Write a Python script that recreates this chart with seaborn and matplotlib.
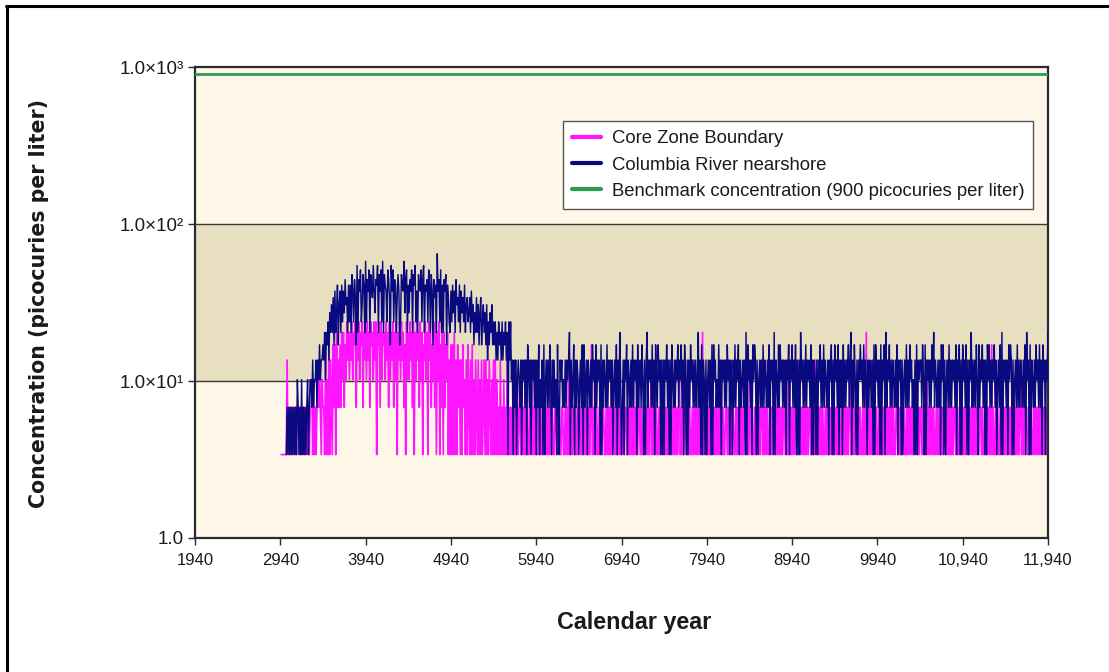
import numpy as np
import pandas as pd
import matplotlib
matplotlib.use("Agg")
import matplotlib.pyplot as plt
from matplotlib.lines import Line2D
from matplotlib.ticker import FixedLocator, NullLocator
import seaborn as sns

# ---------------- data ----------------
START_YEAR = 2950       # first sample year
STEP_YEARS = 10         # sample spacing (years)

# concentration levels (picocuries per liter) referenced by the codes below
# code '0' = no value, '1' = 3.4, '2' = 6.8, ... 'j' = 64.6
LEVELS = [np.nan, 3.4, 6.8, 10.2, 13.6, 17.0, 20.4, 23.8, 27.2, 30.6, 34.0,
          37.4, 40.8, 44.2, 47.6, 51.0, 54.4, 57.8, 61.2, 64.6]

# Core Zone Boundary, one code per 10 years, 500 years per row
core_zone_codes = [
    "1100001412 1212121212 2121212121 2121223121 2123242132",  # 2950-3440
    "2141315142 1525162425 2636253746 3647365726 4736572647",  # 3450-3940
    "3746275637 4716572736 5637462736 4726371647 3746251736",  # 3950-4440
    "3746271637 4627361547 3617462537 2616371526 1625361415",  # 4450-4940
    "1516141524 1415231415 2141513142 1413141241 4131421314",  # 4950-5440
    "1413121412 1312141212 1212121312 2121214121 1212312121",  # 5450-5940
    "1212112121 2121213121 1221212112 2112121412 1212211212",  # 5950-6440
    "2121121212 1212512121 2112121221 1212121312 2121121212",  # 6450-6940
    "1212211212 1213121212 2121121212 1212412121 2112121212",  # 6950-7440
    "1212121121 2121212312 1212211212 1121212121 2121612121",  # 7450-7940
    "1212112121 2121213121 1221212112 2112121212 1212211412",  # 7950-8440
    "2121121212 1212312121 2112121221 1212121212 2121151212",  # 8450-8940
    "1212211212 1212121212 2121121412 1212121121 2112121212",  # 8950-9440
    "1212121121 2121212312 1212211212 1121216121 2121212121",  # 9450-9940
    "1212112121 2121213121 1221212112 2112121212 1212211212",  # 9950-10440
    "2121121412 1212121121 2112121221 1212131212 2121121212",  # 10450-10940
    "1212211212 1212121212 2121121212 1215121121 2112121212",  # 10950-11440
    "1212121121 2121212312 1212211212 1121212121 2121212121",  # 11450-11940
]

# Columbia River nearshore
columbia_codes = [
    "0000001212 1212121213 2121312121 2312332423 3424353445",  # 2950-3440
    "4636574869 6a5b68c59b 6c7b8d9a6c 7c6eb7da5g 6dbf79ec6h",  # 3450-3940
    "7dbf6ecagb 8dcg6ebf7h 6ecb7fda5g bf7dc6aeb5 7ecbh8df6c",  # 3950-4440
    "8dbf6ecg7b 6ecbf7dg6c bd7fc6eb5d ac6jbd7f6c 6dbe5ca76b",  # 4450-4940
    "7c8b6d9a7c 6b8a7c69a7 8a6b79586a 6958a57968 5947586957",  # 4950-5440
    "5746475647 4657461747 3414241343 2414342415 4241434241",  # 5450-5940
    "4251324151 3424253142 4231521434 2324243461 4235142431",  # 5950-6440
    "3425152341 4324253415 2434151424 3252434241 3425142631",  # 6450-6940
    "2414351432 4252434152 3425314146 2434252415 3253414141",  # 6950-7440
    "4352414153 2424352435 2415314142 5342424236 2415143141",  # 7450-7940
    "3424151534 2325241434 2425341431 4252435142 3424161534",  # 7950-8440
    "2415354141 3424252432 4251434161 4325253424 2414351435",  # 8450-8940
    "2425141416 3424252434 2514143141 4352425243 2414351415",  # 8950-9440
    "3425142415 2424352461 4253141435 3425243142 4324151534",  # 9450-9940
    "2415143516 2435242432 4251434141 3425242534 2314151434",  # 9950-10440
    "4253151434 2425362432 4241535141 3425242434 2514351415",  # 10450-10940
    "3425141436 2424253152 4352414153 5242435241 3425161434",  # 10950-11440
    "2415354141 3425242432 4251634151 4324253425 2415341436",  # 11450-11940
]

benchmark_years = [1940, 11940]
benchmark_values = [900, 900]

x_ticks = [1940, 2940, 3940, 4940, 5940, 6940, 7940, 8940, 9940, 10940, 11940]
x_tick_labels = ["1940", "2940", "3940", "4940", "5940", "6940", "7940",
                 "8940", "9940", "10,940", "11,940"]
y_ticks = [1, 10, 100, 1000]
y_tick_labels = ["1.0", "1.0×10¹", "1.0×10²", "1.0×10³"]


def decode(rows):
    codes = "".join(rows).replace(" ", "")
    assert len(codes) == 900, len(codes)
    vals = [LEVELS[int(c, 36)] for c in codes]
    years = START_YEAR + STEP_YEARS * np.arange(len(vals))
    return pd.DataFrame({"year": years, "conc": vals})


core_df = decode(core_zone_codes)
col_df = decode(columbia_codes)

# ---------------- style ----------------
sns.set_theme(style="white")
plt.rcParams["font.family"] = ["Liberation Sans", "DejaVu Sans"]

MAGENTA = "#FF14FF"
NAVY = "#0A0A80"
GREEN = "#2A9D55"
CREAM = "#FEF6E6"
TAN = "#E8DFC0"
TXT = "#1a1a1a"

W, H = 1109, 672
fig = plt.figure(figsize=(W / 100, H / 100), dpi=100)
fig.patch.set_facecolor("white")
ax = fig.add_axes([195 / W, 1 - 538 / H, (1048 - 195) / W, (538 - 67) / H])
ax.set_facecolor(CREAM)

ax.set_yscale("log")
ax.set_xlim(1940, 11940)
ax.set_ylim(1, 1000)

# band between 10 and 100
ax.axhspan(10, 100, color=TAN, zorder=0.5, lw=0)
for yv in (10, 100):
    ax.axhline(yv, color="#3a3a3a", lw=1.0, zorder=1)

sns.lineplot(data=core_df, x="year", y="conc", ax=ax, color=MAGENTA,
             lw=1.2, estimator=None, sort=False, legend=False, zorder=2)
sns.lineplot(data=col_df, x="year", y="conc", ax=ax, color=NAVY,
             lw=1.05, estimator=None, sort=False, legend=False, zorder=3)
sns.lineplot(x=benchmark_years, y=benchmark_values, ax=ax, color=GREEN,
             lw=2.0, estimator=None, legend=False, zorder=4)

# axes
ax.xaxis.set_major_locator(FixedLocator(x_ticks))
ax.set_xticklabels(x_tick_labels)
ax.yaxis.set_major_locator(FixedLocator(y_ticks))
ax.yaxis.set_minor_locator(NullLocator())
ax.set_yticklabels(y_tick_labels)
ax.tick_params(axis="both", which="major", direction="out", length=5,
               width=1, color="#2b2b2b", labelcolor=TXT,
               bottom=True, left=True, pad=4)
ax.tick_params(axis="x", labelsize=12, pad=6)
ax.tick_params(axis="y", labelsize=13.5, pad=3)
for s in ax.spines.values():
    s.set_color("#2b2b2b")
    s.set_linewidth(1.6)
    s.set_visible(True)
ax.set_xlabel("")
ax.set_ylabel("")

fig.text(634 / W, 1 - 622 / H, "Calendar year", fontsize=16.8,
         fontweight="bold", color=TXT, ha="center", va="center")
fig.text(39 / W, 1 - 303 / H, "Concentration (picocuries per liter)",
         fontsize=14.8, fontweight="bold", color=TXT, ha="center",
         va="center", rotation=90, family="DejaVu Sans")

handles = [Line2D([], [], color=MAGENTA, lw=3),
           Line2D([], [], color=NAVY, lw=3),
           Line2D([], [], color=GREEN, lw=3)]
labels = ["Core Zone Boundary", "Columbia River nearshore",
          "Benchmark concentration (900 picocuries per liter)"]
leg = ax.legend(handles, labels, loc="upper left",
                bbox_to_anchor=(0.431, 0.885), fontsize=13.3, frameon=True,
                fancybox=False, framealpha=1, edgecolor="#555555",
                handlelength=1.6, handletextpad=0.55, labelspacing=0.5,
                borderpad=0.5, borderaxespad=0)
leg.get_frame().set_linewidth(1.0)
leg.get_frame().set_facecolor("white")
for t in leg.get_texts():
    t.set_color(TXT)

# outer frame (left and top edges)
fig.add_artist(Line2D([7 / W, 7 / W], [0, 1 - 6 / H],
                      transform=fig.transFigure, color="black", lw=2.2))
fig.add_artist(Line2D([6 / W, 1], [1 - 6 / H, 1 - 6 / H],
                      transform=fig.transFigure, color="black", lw=2.2))

fig.savefig("out.png", dpi=100, facecolor="white")
